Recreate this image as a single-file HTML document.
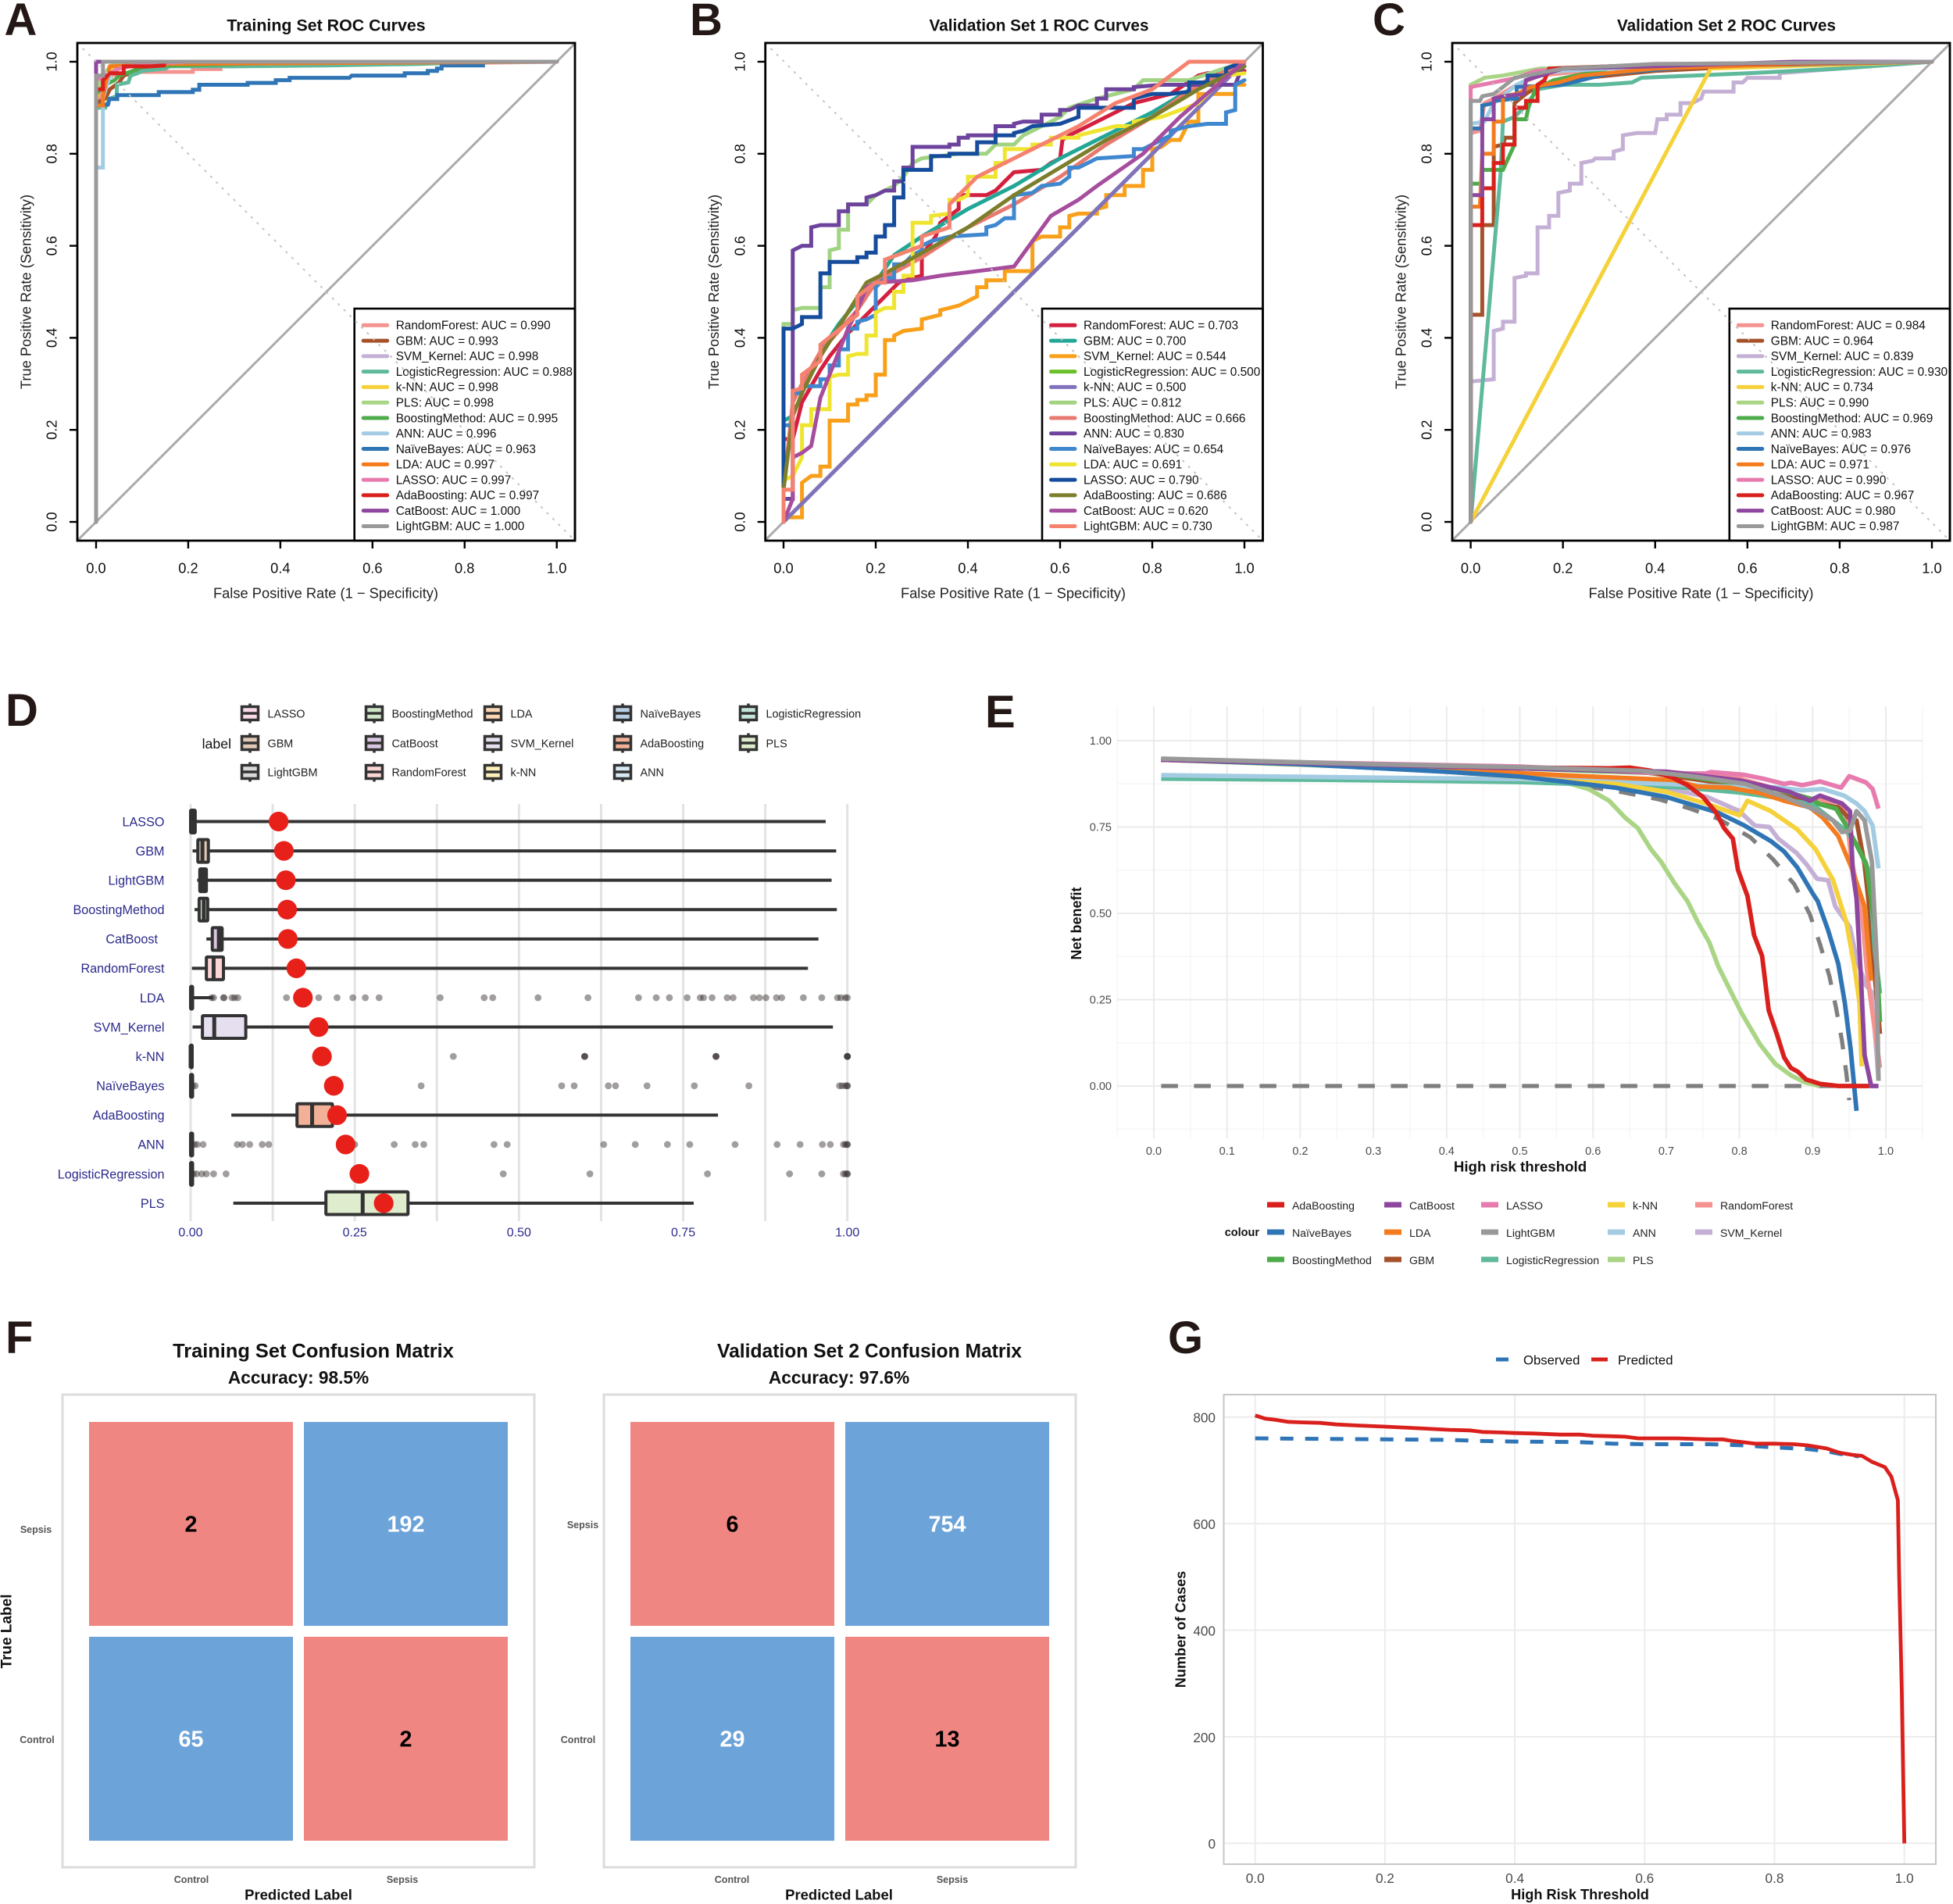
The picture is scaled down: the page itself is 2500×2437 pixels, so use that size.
<!DOCTYPE html>
<html lang="en">
<head>
<meta charset="utf-8">
<title>Model performance figure</title>
<style>
html,body{margin:0;padding:0;background:#fff;}
svg{display:block;font-family:"Liberation Sans",Arial,sans-serif;}
.letter{font-size:58px;font-weight:700;fill:#231815;}
.title{font-size:21.4px;font-weight:700;fill:#111;text-anchor:middle;dominant-baseline:central;}
.axt{font-size:18.3px;fill:#222;text-anchor:middle;dominant-baseline:central;}
.bt{font-weight:700;fill:#111;text-anchor:middle;dominant-baseline:central;}
</style>
</head>
<body>
<svg id="fig" xmlns="http://www.w3.org/2000/svg" width="2500" height="2437" viewBox="0 0 2500 2437">
<rect width="2500" height="2437" fill="#fff"/>

<g id="panelA"></g>
<g id="panelB"></g>
<g id="panelC"></g>
<g id="panelD"></g>
<g id="panelE"></g>
<g id="panelF"></g>
<g id="panelG"></g>

<text class="letter" x="5.5" y="45">A</text>
<text class="letter" x="883" y="45">B</text>
<text class="letter" x="1757" y="45">C</text>
<text class="letter" x="7" y="929">D</text>
<text class="letter" x="1261" y="931">E</text>
<text class="letter" x="7" y="1732">F</text>
<text class="letter" x="1495" y="1732">G</text>

<text class="title" x="417.5" y="32.5">Training Set ROC Curves</text>
<text class="axt" x="417" y="759">False Positive Rate (1 − Specificity)</text>
<text class="axt" x="33" y="373.5" transform="rotate(-90 33 373.5)">True Positive Rate (Sensitivity)</text>

<text class="title" x="1330" y="32.5" textLength="281" lengthAdjust="spacingAndGlyphs">Validation Set 1 ROC Curves</text>
<text class="axt" x="1297" y="759">False Positive Rate (1 − Specificity)</text>
<text class="axt" x="913.5" y="373.5" transform="rotate(-90 913.5 373.5)">True Positive Rate (Sensitivity)</text>

<text class="title" x="2210" y="32.5" textLength="280" lengthAdjust="spacingAndGlyphs">Validation Set 2 ROC Curves</text>
<text class="axt" x="2177.5" y="759">False Positive Rate (1 − Specificity)</text>
<text class="axt" x="1793" y="373.5" transform="rotate(-90 1793 373.5)">True Positive Rate (Sensitivity)</text>

<text x="296" y="951.8" font-size="17.7" fill="#111" text-anchor="end" dominant-baseline="central">label</text>

<text class="bt" x="1946" y="1493" font-size="18.7">High risk threshold</text>
<text class="bt" x="1378" y="1182" font-size="18" transform="rotate(-90 1378 1182)">Net benefit</text>
<text class="bt" x="1612" y="1577.8" font-size="14.5" style="text-anchor:end">colour</text>

<text class="bt" x="401" y="1729.5" font-size="25.4">Training Set Confusion Matrix</text>
<text class="bt" x="382" y="1763" font-size="22.7">Accuracy: 98.5%</text>
<text class="bt" x="1113" y="1729.5" font-size="25.4" textLength="390" lengthAdjust="spacingAndGlyphs">Validation Set 2 Confusion Matrix</text>
<text class="bt" x="1074" y="1763" font-size="22.7">Accuracy: 97.6%</text>
<text class="bt" x="382" y="2425" font-size="18.5">Predicted Label</text>
<text class="bt" x="1074" y="2425" font-size="18.5">Predicted Label</text>
<text class="bt" x="9" y="2088" font-size="19" transform="rotate(-90 9 2088)">True Label</text>

<text class="bt" x="2022.5" y="2425" font-size="18.2">High Risk Threshold</text>
<text class="bt" x="1511.5" y="2085.5" font-size="18.2" transform="rotate(-90 1511.5 2085.5)">Number of Cases</text>
</svg>

<script>
/* ---------- shared categories ---------- */
const rocModels = ["RandomForest","GBM","SVM_Kernel","LogisticRegression","k-NN","PLS","BoostingMethod","ANN","NaïveBayes","LDA","LASSO","AdaBoosting","CatBoost","LightGBM"];
const rocTicks = [0,0.2,0.4,0.6,0.8,1];

/* ---------- Panel A: training ROC ---------- */
const rocAAuc = [0.990,0.993,0.998,0.988,0.998,0.998,0.995,0.996,0.963,0.997,0.997,0.997,1.000,1.000];
const rocA_RandomForest = [[0,0],[0,.91],[.02,.95],[.03,.97],[.06,.975],[.1,.978],[.21,.978],[.21,.984],[.27,.984],[.27,.99],[.4,.992],[.6,.995],[1,1]];
const rocA_GBM = [[0,0],[0,.91],[.02,.92],[.03,.94],[.05,.955],[.06,.97],[.09,.98],[.15,.99],[.35,1],[1,1]];
const rocA_SVM = [[0,0],[0,.96],[.03,.98],[.05,.99],[.16,.995],[1,1]];
const rocA_LogReg = [[0,0],[0,.9],[.02,.9],[.03,.92],[.045,.925],[.045,.95],[.07,.955],[.075,.97],[.09,.975],[.1,.98],[.15,.985],[.16,.99],[.3,.99],[.5,.992],[.7,.995],[.85,1],[1,1]];
const rocA_kNN = [[0,0],[0,.92],[.01,.95],[.02,.97],[.04,.99],[.07,1],[1,1]];
const rocA_PLS = [[0,0],[0,.93],[.01,.96],[.03,.99],[.06,1],[1,1]];
const rocA_Boosting = [[0,0],[0,.93],[.02,.95],[.04,.96],[.05,.97],[.08,.98],[.1,.99],[.3,.995],[.55,1],[1,1]];
const rocA_ANN = [[0,0],[0,.77],[.015,.77],[.015,.92],[.03,.97],[.05,.99],[.1,1],[1,1]];
const rocA_NaiveBayes = [[0,0],[0,.905],[.026,.907],[.029,.919],[.046,.919],[.046,.9275],[.136,.9275],[.136,.934],[.21,.934],[.21,.939],[.224,.939],[.224,.95],[.329,.95],[.329,.954],[.39,.954],[.39,.96],[.42,.96],[.42,.965],[.55,.965],[.555,.97],[.67,.97],[.67,.975],[.72,.975],[.72,.98],[.74,.98],[.74,.985],[.75,.985],[.75,.992],[.84,.992],[.84,1],[1,1]];
const rocA_LDA = [[0,0],[0,.905],[.015,.905],[.015,.925],[.02,.95],[.03,.99],[.15,.995],[1,1]];
const rocA_LASSO = [[0,0],[0,.96],[.02,.97],[.05,.985],[.1,.995],[.2,1],[1,1]];
const rocA_Ada = [[0,0],[0,.94],[.015,.94],[.015,.96],[.03,.975],[.06,.975],[.06,.99],[.12,.99],[.147,.992],[.15,1],[1,1]];
const rocA_CatBoost = [[0,0],[0,.975],[0,1],[.012,1],[1,1]];
const rocA_LightGBM = [[0,0],[0,.97],[.015,.97],[.015,1],[1,1]];
const rocASeries = [rocA_RandomForest,rocA_GBM,rocA_SVM,rocA_LogReg,rocA_kNN,rocA_PLS,rocA_Boosting,rocA_ANN,rocA_NaiveBayes,rocA_LDA,rocA_LASSO,rocA_Ada,rocA_CatBoost,rocA_LightGBM];

/* ---------- Panel B: validation 1 ROC ---------- */
const rocBAuc = [0.703,0.700,0.544,0.500,0.500,0.812,0.666,0.830,0.654,0.691,0.790,0.686,0.620,0.730];
const rocB_RandomForest = [[0,0],[0,.18],[.02,.18],[.04,.26],[.08,.33],[.1,.36],[.14,.41],[.18,.45],[.22,.49],[.25,.52],[.28,.53],[.3,.535],[.3,.58],[.33,.62],[.34,.65],[.38,.68],[.38,.71],[.44,.71],[.46,.72],[.48,.74],[.5,.76],[.56,.765],[.58,.78],[.6,.79],[.605,.83],[.62,.84],[.66,.86],[.72,.89],[.76,.91],[.84,.93],[.9,.97],[.92,.975],[1,.98]];
const rocB_GBM = [[0,0],[0,.22],[.02,.23],[.02,.27],[.04,.29],[.08,.37],[.12,.43],[.16,.48],[.18,.5],[.2,.52],[.24,.58],[.3,.62],[.4,.68],[.5,.73],[.6,.79],[.7,.84],[.8,.89],[.9,.95],[1,.99]];
const rocB_SVM = [[0,0],[0,.01],[.04,.01],[.04,.085],[.06,.1],[.08,.1],[.08,.12],[.1,.12],[.1,.22],[.14,.22],[.14,.255],[.16,.255],[.16,.265],[.18,.265],[.18,.275],[.2,.275],[.2,.32],[.22,.32],[.22,.395],[.24,.395],[.24,.405],[.26,.415],[.3,.42],[.3,.44],[.32,.445],[.34,.45],[.34,.46],[.38,.47],[.4,.48],[.42,.49],[.42,.51],[.44,.51],[.44,.525],[.48,.525],[.48,.545],[.54,.545],[.54,.61],[.56,.62],[.6,.62],[.6,.64],[.62,.64],[.62,.665],[.64,.67],[.68,.67],[.68,.68],[.7,.685],[.7,.71],[.74,.71],[.74,.73],[.78,.73],[.78,.765],[.8,.765],[.8,.81],[.82,.815],[.84,.83],[.86,.83],[.88,.87],[.9,.87],[.9,.93],[.98,.93],[.98,.95],[1,.95]];
const rocB_LogReg = [[0,0],[1,1]];
const rocB_kNN = [[0,0],[1,1]];
const rocB_PLS = [[0,0],[0,.43],[.02,.43],[.02,.46],[.04,.465],[.08,.465],[.08,.51],[.1,.51],[.1,.59],[.12,.595],[.12,.635],[.14,.635],[.14,.69],[.18,.69],[.2,.71],[.22,.72],[.24,.73],[.26,.75],[.28,.78],[.3,.79],[.34,.795],[.38,.8],[.44,.8],[.46,.82],[.5,.82],[.52,.84],[.56,.86],[.6,.88],[.62,.9],[.68,.92],[.72,.93],[.76,.94],[.78,.96],[.88,.96],[.94,.98],[1,1]];
const rocB_Boosting = [[0,0],[0,.07],[.02,.26],[.04,.3],[.08,.37],[.16,.46],[.2,.52],[.3,.575],[.4,.64],[.5,.69],[.6,.75],[.7,.82],[.8,.88],[.9,.95],[1,1]];
const rocB_ANN = [[0,0],[0,.05],[.02,.05],[.02,.59],[.04,.6],[.06,.6],[.06,.64],[.08,.645],[.12,.645],[.12,.675],[.14,.675],[.14,.69],[.18,.69],[.18,.705],[.2,.71],[.22,.72],[.24,.72],[.24,.74],[.26,.74],[.26,.77],[.28,.77],[.28,.815],[.36,.815],[.36,.82],[.38,.82],[.38,.835],[.4,.835],[.4,.84],[.46,.84],[.46,.86],[.5,.86],[.5,.865],[.52,.87],[.56,.87],[.56,.885],[.6,.885],[.6,.895],[.62,.895],[.64,.905],[.68,.905],[.68,.92],[.7,.92],[.7,.94],[.76,.94],[.76,.945],[.82,.95],[.98,.95],[1,1]];
const rocB_NaiveBayes = [[0,0],[0,.21],[.02,.21],[.02,.28],[.04,.28],[.04,.295],[.08,.295],[.08,.31],[.1,.31],[.1,.34],[.12,.34],[.12,.375],[.14,.375],[.14,.42],[.16,.42],[.16,.435],[.18,.44],[.2,.45],[.2,.51],[.22,.53],[.24,.53],[.24,.56],[.26,.56],[.28,.58],[.3,.59],[.3,.6],[.32,.61],[.36,.62],[.44,.625],[.44,.64],[.46,.645],[.48,.66],[.5,.66],[.5,.71],[.54,.715],[.56,.73],[.6,.735],[.62,.75],[.62,.77],[.64,.77],[.66,.78],[.68,.79],[.76,.795],[.76,.81],[.78,.81],[.8,.82],[.82,.83],[.84,.84],[.84,.85],[.88,.86],[.92,.865],[.96,.865],[.96,.89],[.98,.895],[.98,.95],[1,.96]];
const rocB_LDA = [[0,0],[0,.09],[.02,.1],[.04,.14],[.04,.21],[.06,.21],[.06,.245],[.1,.245],[.1,.315],[.12,.32],[.14,.32],[.14,.36],[.16,.365],[.18,.365],[.18,.405],[.2,.405],[.2,.455],[.22,.465],[.24,.465],[.24,.5],[.26,.5],[.26,.535],[.28,.535],[.28,.65],[.32,.65],[.32,.665],[.36,.67],[.36,.7],[.38,.7],[.4,.71],[.4,.75],[.46,.75],[.46,.78],[.48,.78],[.48,.81],[.54,.81],[.54,.82],[.58,.82],[.58,.835],[.64,.835],[.64,.84],[.68,.85],[.72,.86],[.76,.86],[.76,.87],[.82,.88],[.9,.91],[.94,.95],[.96,.97],[1,.975]];
const rocB_LASSO = [[0,0],[0,.42],[.02,.42],[.04,.43],[.04,.445],[.08,.445],[.08,.54],[.1,.54],[.1,.565],[.16,.565],[.16,.575],[.18,.575],[.18,.585],[.2,.585],[.2,.62],[.22,.62],[.22,.645],[.24,.645],[.24,.705],[.26,.705],[.26,.765],[.32,.765],[.32,.795],[.36,.795],[.36,.8],[.42,.8],[.42,.825],[.46,.825],[.46,.84],[.5,.84],[.5,.845],[.52,.85],[.54,.86],[.6,.865],[.64,.88],[.64,.9],[.76,.9],[.76,.92],[.8,.93],[.84,.93],[.88,.935],[.88,.955],[.92,.955],[.92,.97],[.96,.97],[.96,.985],[1,1]];
const rocB_Ada = [[0,0],[0,.07],[.02,.23],[.04,.28],[.08,.36],[.18,.52],[.22,.54],[.4,.64],[.5,.71],[.6,.77],[.7,.83],[.8,.88],[.9,.94],[1,.99]];
const rocB_CatBoost = [[0,0],[.02,.05],[.02,.14],[.04,.15],[.06,.165],[.08,.27],[.1,.32],[.12,.37],[.14,.42],[.16,.46],[.18,.51],[.2,.52],[.28,.525],[.34,.535],[.5,.555],[.54,.61],[.58,.665],[.64,.7],[.68,.73],[.78,.8],[.86,.88],[1,1]];
const rocB_LightGBM = [[0,0],[0,.07],[.02,.07],[.02,.285],[.04,.29],[.04,.32],[.08,.35],[.08,.385],[.16,.45],[.16,.49],[.2,.52],[.22,.52],[.22,.57],[.3,.6],[.3,.62],[.36,.64],[.36,.69],[.38,.71],[.42,.75],[.46,.77],[.56,.82],[.64,.86],[.72,.91],[.8,.94],[.88,1],[1,1]];
const rocBSeries = [rocB_RandomForest,rocB_GBM,rocB_SVM,rocB_LogReg,rocB_kNN,rocB_PLS,rocB_Boosting,rocB_ANN,rocB_NaiveBayes,rocB_LDA,rocB_LASSO,rocB_Ada,rocB_CatBoost,rocB_LightGBM];

/* ---------- Panel C: validation 2 ROC ---------- */
const rocCAuc = [0.984,0.964,0.839,0.930,0.734,0.990,0.969,0.983,0.976,0.971,0.990,0.967,0.980,0.987];
const rocC_RandomForest = [[0,0],[0,.845],[.02,.85],[.03,.91],[.05,.92],[.1,.95],[.15,.97],[.3,.985],[.6,.995],[1,1]];
const rocC_GBM = [[0,0],[0,.45],[.025,.45],[.025,.645],[.05,.645],[.05,.815],[.07,.82],[.075,.835],[.095,.835],[.095,.91],[.12,.93],[.15,.95],[.2,.96],[.4,.98],[.6,.99],[1,1]];
const rocC_SVM = [[0,0],[0,.305],[.05,.31],[.05,.415],[.07,.42],[.07,.435],[.095,.435],[.095,.53],[.12,.535],[.12,.54],[.145,.54],[.145,.64],[.17,.64],[.17,.665],[.19,.665],[.19,.715],[.215,.72],[.215,.735],[.24,.735],[.24,.78],[.265,.785],[.27,.79],[.31,.79],[.31,.805],[.33,.81],[.33,.84],[.36,.845],[.4,.845],[.405,.875],[.425,.875],[.425,.885],[.455,.885],[.455,.91],[.48,.91],[.5,.92],[.505,.935],[.57,.935],[.57,.955],[.59,.955],[.6,.965],[.67,.965],[.67,.975],[.8,.985],[1,1]];
const rocC_LogReg = [[0,0],[.065,.76],[.07,.87],[.095,.88],[.12,.905],[.145,.94],[.2,.95],[.28,.95],[.35,.955],[.37,.965],[.6,.975],[.8,.985],[1,1]];
const rocC_kNN = [[0,0],[.52,.985],[1,1]];
const rocC_PLS = [[0,0],[0,.95],[.03,.965],[.07,.97],[.15,.985],[.3,.99],[1,1]];
const rocC_Boosting = [[0,0],[0,.735],[.025,.735],[.025,.765],[.07,.765],[.095,.82],[.095,.875],[.12,.875],[.125,.9],[.14,.94],[.18,.96],[.3,.985],[.5,.995],[1,1]];
const rocC_ANN = [[0,0],[0,.865],[.03,.87],[.05,.91],[.1,.95],[.15,.975],[.2,.98],[.4,.99],[1,1]];
const rocC_NaiveBayes = [[0,0],[0,.855],[.025,.855],[.025,.905],[.05,.91],[.05,.915],[.1,.92],[.1,.945],[.2,.95],[.24,.96],[.3,.975],[.5,.99],[1,1]];
const rocC_LDA = [[0,0],[0,.685],[.02,.685],[.025,.8],[.05,.8],[.05,.87],[.07,.87],[.07,.925],[.1,.93],[.13,.945],[.19,.955],[.24,.97],[.4,.985],[.7,.995],[1,1]];
const rocC_LASSO = [[0,0],[0,.945],[.05,.955],[.1,.965],[.14,.98],[.2,.985],[.4,.995],[1,1]];
const rocC_Ada = [[0,0],[0,.645],[.025,.645],[.025,.725],[.05,.725],[.05,.78],[.07,.78],[.07,.82],[.095,.82],[.095,.9],[.12,.9],[.12,.915],[.145,.915],[.145,.95],[.16,.96],[.17,.985],[.3,.99],[.55,.995],[1,1]];
const rocC_CatBoost = [[0,0],[0,.71],[.025,.71],[.025,.875],[.05,.875],[.05,.92],[.07,.925],[.115,.93],[.12,.96],[.2,.985],[.4,.99],[.7,1],[1,1]];
const rocC_LightGBM = [[0,0],[0,.915],[.02,.915],[.025,.925],[.05,.93],[.07,.945],[.095,.965],[.2,.985],[.4,.995],[1,1]];
const rocCSeries = [rocC_RandomForest,rocC_GBM,rocC_SVM,rocC_LogReg,rocC_kNN,rocC_PLS,rocC_Boosting,rocC_ANN,rocC_NaiveBayes,rocC_LDA,rocC_LASSO,rocC_Ada,rocC_CatBoost,rocC_LightGBM];

/* ---------- Panel D: box plots ---------- */
const boxLabels = ["LASSO","GBM","LightGBM","BoostingMethod","CatBoost","RandomForest","LDA","SVM_Kernel","k-NN","NaïveBayes","AdaBoosting","ANN","LogisticRegression","PLS"];
const boxLow    = [0,.003,.01,.006,.024,.002,0,.003,0,0,.062,0,0,.065];
const boxQ1     = [0,.011,.014,.013,.033,.024,0,.018,0,0,.162,0,0,.206];
const boxMedian = [.002,.018,.019,.02,.043,.035,.001,.036,0,.001,.185,.001,.001,.262];
const boxQ3     = [.007,.027,.024,.026,.048,.05,.003,.084,.002,.003,.216,.003,.003,.331];
const boxHigh   = [.967,.983,.976,.984,.956,.94,.034,.978,.002,.003,.803,.003,.003,.766];
const boxMean   = [.134,.142,.145,.147,.148,.161,.171,.195,.2,.218,.223,.236,.257,.294];
const outliersLDA = [.032,.035,.05,.051,.063,.067,.072,.146,.195,.223,.247,.266,.287,.38,.447,.46,.529,.605,.682,.709,.729,.756,.776,.781,.794,.817,.826,.857,.866,.876,.892,.9,.933,.961,.985,.99,.997,1];
const outliersKNN = [.4,.6,.6,.6,.8,.8,.8,1,1,1,1];
const outliersNB = [.003,.007,.351,.565,.584,.636,.647,.695,.767,.85,.988,.992,.997,1,1];
const outliersANN = [.006,.01,.019,.071,.079,.09,.109,.119,.25,.31,.342,.355,.462,.482,.629,.677,.726,.76,.829,.893,.928,.962,.974,.994,.997,1,1];
const outliersLogReg = [.004,.009,.017,.024,.035,.054,.476,.608,.787,.912,.961,.994,.997,1,1];
const boxTicks = [0,.25,.5,.75,1];
const boxGrid = [0,.125,.25,.375,.5,.625,.75,.875,1];
const boxLegendCols = [["LASSO","GBM","LightGBM"],["BoostingMethod","CatBoost","RandomForest"],["LDA","SVM_Kernel","k-NN"],["NaïveBayes","AdaBoosting","ANN"],["LogisticRegression","PLS"]];

/* ---------- Panel E: decision curves ---------- */
const dcaPLS = [[.01,.945],[.2,.93],[.4,.915],[.5,.905],[.558,.882],[.594,.86],[.622,.826],[.644,.777],[.661,.747],[.679,.686],[.693,.649],[.711,.588],[.729,.535],[.743,.475],[.759,.415],[.771,.347],[.786,.283],[.803,.211],[.828,.121],[.849,.064],[.871,.03],[.889,.011],[.91,0]];
const dcaSVM = [[.01,.945],[.3,.925],[.6,.89],[.714,.856],[.756,.837],[.8,.796],[.821,.754],[.841,.75],[.853,.716],[.878,.675],[.892,.641],[.906,.6],[.921,.596],[.931,.52],[.951,.46],[.96,.37],[.972,.294],[.981,.271],[.99,.02]];
const dcaRF = [[.01,.945],[.5,.92],[.7,.91],[.8,.89],[.9,.83],[.935,.822],[.946,.784],[.953,.656],[.967,.505],[.975,.317],[.992,.053]];
const dcaGBM = [[.01,.945],[.5,.92],[.65,.915],[.8,.87],[.9,.82],[.935,.807],[.949,.777],[.96,.769],[.971,.641],[.978,.505],[.985,.317],[.992,.151]];
const dcaLogReg = [[.01,.89],[.2,.887],[.4,.883],[.5,.88],[.58,.875],[.65,.87],[.72,.865],[.8,.85],[.85,.835],[.9,.815],[.946,.739],[.96,.7],[.978,.618],[.985,.392],[.992,.268]];
const dcaBoosting = [[.01,.945],[.5,.92],[.7,.905],[.85,.86],[.9,.83],[.907,.818],[.932,.803],[.946,.754],[.973,.645],[.985,.468],[.992,.185]];
const dcaANN = [[.01,.9],[.3,.893],[.5,.889],[.7,.875],[.8,.865],[.85,.865],[.886,.856],[.914,.86],[.943,.841],[.96,.818],[.971,.796],[.982,.754],[.99,.63]];
const dcaLASSO = [[.01,.945],[.5,.925],[.7,.905],[.754,.905],[.761,.909],[.807,.901],[.832,.89],[.861,.875],[.87,.878],[.886,.871],[.91,.882],[.939,.864],[.95,.897],[.973,.879],[.982,.86],[.99,.803]];
const dcaLDA = [[.01,.945],[.3,.925],[.5,.906],[.558,.9],[.665,.89],[.711,.886],[.743,.867],[.786,.864],[.829,.848],[.861,.826],[.896,.807],[.914,.777],[.935,.724],[.953,.633],[.971,.52],[.98,.305]];
const dcaKNN = [[.01,.945],[.3,.925],[.5,.895],[.558,.884],[.63,.875],[.7,.852],[.754,.818],[.8,.784],[.811,.826],[.843,.796],[.879,.743],[.904,.686],[.928,.596],[.946,.475],[.957,.347],[.964,.241],[.967,.057]];
const dcaNB = [[.01,.945],[.2,.932],[.4,.91],[.5,.896],[.558,.882],[.63,.864],[.7,.837],[.77,.792],[.807,.754],[.843,.709],[.861,.679],[.879,.633],[.9,.558],[.907,.535],[.921,.452],[.935,.354],[.944,.241],[.952,.106],[.96,-.072]];
const dcaAda = [[.01,.945],[.2,.936],[.4,.925],[.5,.922],[.622,.92],[.65,.922],[.679,.913],[.708,.894],[.729,.871],[.75,.837],[.768,.792],[.779,.747],[.791,.716],[.798,.626],[.811,.55],[.82,.437],[.831,.377],[.84,.219],[.851,.151],[.861,.083],[.87,.053],[.88,.041],[.891,.019],[.91,.006],[.935,0],[.978,0]];
const dcaCatBoost = [[.01,.945],[.5,.92],[.7,.91],[.8,.885],[.868,.852],[.896,.826],[.91,.841],[.94,.818],[.951,.796],[.955,.618],[.96,.543],[.966,.317],[.971,.09],[.98,0],[.99,0]];
const dcaLightGBM = [[.01,.948],[.3,.932],[.5,.923],[.558,.92],[.665,.913],[.736,.897],[.807,.875],[.861,.837],[.907,.796],[.928,.769],[.94,.735],[.951,.739],[.96,.796],[.971,.769],[.981,.649],[.987,.392],[.99,.015]];
const dcaTreatAll = [[.01,.945],[.2,.932],[.4,.91],[.5,.893],[.56,.878],[.637,.852],[.69,.83],[.733,.803],[.772,.773],[.815,.72],[.846,.656],[.875,.584],[.896,.498],[.91,.411],[.923,.317],[.932,.226],[.94,.132],[.946,.038],[.95,-.041]];
const dcaTreatNone = [[.01,0],[.98,0]];
const dcaXTicks = [0,.1,.2,.3,.4,.5,.6,.7,.8,.9,1];
const dcaYTicks = [0,.25,.5,.75,1];
const dcaXMinor = [-.05,.05,.15,.25,.35,.45,.55,.65,.75,.85,.95,1.05];
const dcaYMinor = [-.125,.125,.375,.625,.875];
const dcaLegendCols = [["AdaBoosting","NaïveBayes","BoostingMethod"],["CatBoost","LDA","GBM"],["LASSO","LightGBM","LogisticRegression"],["k-NN","ANN","PLS"],["RandomForest","SVM_Kernel"]];

/* ---------- Panel F: confusion matrices ---------- */
const cmRows = ["Sepsis","Control"];
const cmCols = ["Control","Sepsis"];
const cmTrainingValues = [[2,192],[65,2]];
const cmValidationValues = [[6,754],[29,13]];

/* ---------- Panel G: clinical impact ---------- */
const impactPredicted = [[0,803],[.015,797],[.03,795],[.05,791],[.07,790],[.1,789],[.125,786],[.16,784],[.2,782],[.25,779],[.3,776],[.33,775],[.35,772],[.38,771],[.4,770],[.43,769],[.47,767],[.5,767],[.52,765],[.55,764],[.57,763],[.59,760],[.65,760],[.7,758],[.72,758],[.735,755],[.75,753],[.77,750],[.8,750],[.83,749],[.85,747],[.88,741],[.9,733],[.92,729],[.935,727],[.95,716],[.97,706],[.98,688],[.99,644],[.992,500],[.996,288],[1,0]];
const impactObserved = [[0,760],[.1,759],[.2,758],[.3,757],[.35,755],[.4,754],[.5,753],[.55,750],[.6,749],[.7,749],[.75,747],[.8,743],[.85,740],[.88,736],[.9,731],[.93,726]];
const impactXTicks = [0,.2,.4,.6,.8,1];
const impactYTicks = [0,200,400,600,800];

/* ---------- styling maps ---------- */
const rocColorsWarm = ["#F4938F","#A5522B","#C5B0D5","#5FB99C","#F5D13A","#A9D585","#4DAB4A","#A3CCE3","#2F75B5","#F47C1E","#E77BAE","#D9201C","#8E479E","#999999"];
const rocColorsB = ["#D41F3F","#22A696","#F9A01B","#6BBF2A","#8272BC","#A0D382","#E8796F","#6D439D","#3F87CF","#EFE530","#164C9C","#7C7E2B","#A64D9E","#F5826F"];
const boxFill = {"LASSO":"#f9d9e8","GBM":"#e0c9b5","LightGBM":"#d9d9d9","BoostingMethod":"#cfe5c8","CatBoost":"#d9c7e1","RandomForest":"#fbd6d4","LDA":"#fcd5b4","SVM_Kernel":"#e6dff0","k-NN":"#fdf0b8","NaïveBayes":"#b8cfe6","AdaBoosting":"#f2b196","ANN":"#d7e9f2","LogisticRegression":"#c4e5da","PLS":"#dfeccd"};
const dcaColor = {"AdaBoosting":"#D9201C","NaïveBayes":"#2F75B5","BoostingMethod":"#4DAB4A","CatBoost":"#8E479E","LDA":"#F47C1E","GBM":"#A5522B","LASSO":"#E77BAE","LightGBM":"#999999","LogisticRegression":"#5FB99C","k-NN":"#F5D13A","ANN":"#A3CCE3","PLS":"#A9D585","RandomForest":"#F4938F","SVM_Kernel":"#C5B0D5"};

/* ---------- helpers ---------- */
const NS = "http://www.w3.org/2000/svg";
function mk(parent, tag, attrs) {
  const el = document.createElementNS(NS, tag);
  for (const k in attrs) el.setAttribute(k, attrs[k]);
  parent.appendChild(el);
  return el;
}
function txt(parent, x, y, str, size, fill, anchor, weight, rotate) {
  const el = mk(parent, "text", {x:x, y:rotate ? y : y + 0.8, "font-size":size, fill:fill, "text-anchor":anchor || "middle", "dominant-baseline":"central"});
  if (weight) el.setAttribute("font-weight", weight);
  if (rotate) el.setAttribute("transform", "rotate(" + rotate + " " + x + " " + y + ")");
  el.textContent = str;
  return el;
}
function pathFrom(points, xs, ys) {
  return points.map((p, i) => (i ? "L" : "M") + xs(p[0]).toFixed(1) + " " + ys(p[1]).toFixed(1)).join("");
}
function linear(d0, d1, r0, r1) {
  return v => r0 + (v - d0) * (r1 - r0) / (d1 - d0);
}

/* ---------- ROC chart ---------- */
function drawRoc(gid, prefix, L, aucs, colors, series) {
  const g = document.getElementById(gid);
  const xs = linear(0, 1, L.x0, L.x1);
  const ys = linear(0, 1, 668, 79);
  const top = 55, bottom = 692, left = L.left, right = L.right;
  const xInv = linear(L.x0, L.x1, 0, 1);

  const diag = mk(g, "line", {x1:xs(xInv(left)), y1:ys(xInv(left)), x2:xs(xInv(right)), y2:ys(xInv(right)), stroke:"#ababab", "stroke-width":3});
  
  

  series.forEach((pts, i) => {
    const p = mk(g, "path", {d:pathFrom(pts, xs, ys), fill:"none", stroke:colors[i], "stroke-width":5, "stroke-linejoin":"miter", "stroke-linecap":"round"});
    
    
  });

  const lg = mk(g, "rect", {x:L.legendLeft, y:395, width:right - L.legendLeft, height:bottom - 395, fill:"#fff", stroke:"#000", "stroke-width":2.6});
  
  
  rocModels.forEach((m, i) => {
    const y = 416.3 + i * 19.78;
    const k = mk(g, "line", {x1:L.legendLeft + 11.5, x2:L.legendLeft + 42, y1:y, y2:y, stroke:colors[i], "stroke-width":5, "stroke-linecap":"round"});
    
    
    const t = txt(g, L.legendLeft + 53, y, m + ": AUC = " + aucs[i].toFixed(3), 15.4, "#111", "start");
    
    
  });

  const dots = mk(g, "line", {x1:left, y1:top, x2:right, y2:bottom, stroke:"#c4c4c4", "stroke-width":2, "stroke-dasharray":"1.5 9", "stroke-linecap":"round"});
  
  

  const box = mk(g, "rect", {x:left, y:top, width:right - left, height:bottom - top, fill:"none", stroke:"#000", "stroke-width":2.8});
  
  

  rocTicks.forEach(v => {
    const a = mk(g, "line", {x1:xs(v), x2:xs(v), y1:bottom, y2:bottom + 10, stroke:"#000", "stroke-width":2.4});
    
    
    const b = txt(g, xs(v), 726, v.toFixed(1), 18.3, "#111");
    
    
    const c = mk(g, "line", {x1:left - 10, x2:left, y1:ys(v), y2:ys(v), stroke:"#000", "stroke-width":2.4});
    
    
    const d = txt(g, L.yTickX, ys(v), v.toFixed(1), 18.3, "#111", "middle", null, -90);
    
    
  });
}
drawRoc("panelA", "roc-a", {x0:123, x1:712.7, left:99, right:736, legendLeft:453.7, yTickX:66}, rocAAuc, rocColorsWarm, rocASeries);
drawRoc("panelB", "roc-b", {x0:1003, x1:1593, left:979.7, right:1616.5, legendLeft:1334, yTickX:947}, rocBAuc, rocColorsB, rocBSeries);
drawRoc("panelC", "roc-c", {x0:1882.6, x1:2473, left:1859, right:2496, legendLeft:2213.8, yTickX:1826}, rocCAuc, rocColorsWarm, rocCSeries);

/* ---------- Box plot chart ---------- */
(function () {
  const g = document.getElementById("panelD");
  const xs = linear(0, 1, 244, 1084.7);
  const ys = i => 1051.5 + i * 37.58;
  const NAVY = "#2b2a8c", INK = "#333";

  boxGrid.forEach(v => {
    const l = mk(g, "line", {x1:xs(v), x2:xs(v), y1:1029, y2:1563, stroke:"#e3e3e3", "stroke-width":3});
    
    
  });
  boxTicks.forEach(v => {
    const t = txt(g, xs(v), 1577, v.toFixed(2), 16, NAVY);
    
    
  });

  const outlierSets = {"LDA":outliersLDA, "k-NN":outliersKNN, "NaïveBayes":outliersNB, "ANN":outliersANN, "LogisticRegression":outliersLogReg};

  boxLabels.forEach((name, i) => {
    const y = ys(i);
    const slug = name.toLowerCase();
    const lab = txt(g, name === "CatBoost" ? 202 : 210.5, y, name, 16.2, NAVY, "end");
    
    

    (outlierSets[name] || []).forEach(v => {
      const o = mk(g, "circle", {cx:xs(v), cy:y, r:4.4, fill:"#3a3030", "fill-opacity":0.47});
      
      
    });

    const w = mk(g, "line", {x1:xs(boxLow[i]), x2:xs(boxHigh[i]), y1:y, y2:y, stroke:INK, "stroke-width":4});
    
    

    const r = mk(g, "rect", {x:xs(boxQ1[i]), y:y - 14.5, width:Math.max(xs(boxQ3[i]) - xs(boxQ1[i]), 2), height:29, fill:boxFill[name], stroke:INK, "stroke-width":4, rx:1});
    
    

    const m = mk(g, "line", {x1:xs(boxMedian[i]), x2:xs(boxMedian[i]), y1:y - 14.5, y2:y + 14.5, stroke:INK, "stroke-width":5});
    
    

    const c = mk(g, "circle", {cx:xs(boxMean[i]), cy:y, r:12.6, fill:"#E8201A"});
    
    
  });

  const colKeys = [320, 479, 631, 797, 958];
  const rowY = [913, 951, 988];
  boxLegendCols.forEach((col, ci) => {
    col.forEach((name, ri) => {
      const kx = colKeys[ci], ky = rowY[ri];
      const wl = mk(g, "line", {x1:kx, x2:kx, y1:ky - 12.5, y2:ky + 12.5, stroke:INK, "stroke-width":3.5});
      
      
      const kb = mk(g, "rect", {x:kx - 10.5, y:ky - 8.5, width:21, height:17, fill:boxFill[name], stroke:INK, "stroke-width":3.5});
      
      
      const kl = mk(g, "line", {x1:kx - 10.5, x2:kx + 10.5, y1:ky, y2:ky, stroke:INK, "stroke-width":3.5});
      
      
      const kt = txt(g, kx + 22.5, ky + 0.6, name, 14.4, "#222", "start");
      
      
    });
  });
})();

/* ---------- Decision curve chart ---------- */
(function () {
  const g = document.getElementById("panelE");
  const xs = linear(0, 1, 1477, 2414);
  const ys = linear(0, 1, 1390, 948);
  const L = 1430, R = 2461, T = 904, B = 1457;

  dcaXMinor.forEach(v => {
    const l = mk(g, "line", {x1:xs(v), x2:xs(v), y1:T, y2:B, stroke:"#f4f4f4", "stroke-width":1.2});
    
    
  });
  dcaYMinor.forEach(v => {
    const l = mk(g, "line", {x1:L, x2:R, y1:ys(v), y2:ys(v), stroke:"#f4f4f4", "stroke-width":1.2});
    
    
  });
  dcaXTicks.forEach(v => {
    const l = mk(g, "line", {x1:xs(v), x2:xs(v), y1:T, y2:B, stroke:"#ebebeb", "stroke-width":2});
    
    
    const t = txt(g, xs(v), 1473, v.toFixed(1), 14.5, "#4d4d4d");
    
    
  });
  dcaYTicks.forEach(v => {
    const l = mk(g, "line", {x1:L, x2:R, y1:ys(v), y2:ys(v), stroke:"#ebebeb", "stroke-width":2});
    
    
    const t = txt(g, 1423, ys(v), v.toFixed(2), 14.5, "#4d4d4d", "end");
    
    
  });

  const refs = [["treat-all", dcaTreatAll], ["treat-none", dcaTreatNone]];
  refs.forEach(r => {
    const p = mk(g, "path", {d:pathFrom(r[1], xs, ys), fill:"none", stroke:"#7f7f7f", "stroke-width":5.3, "stroke-dasharray":"21.5 20.5"});
    
    
  });

  const order = [["PLS",dcaPLS],["SVM_Kernel",dcaSVM],["RandomForest",dcaRF],["GBM",dcaGBM],["LogisticRegression",dcaLogReg],["BoostingMethod",dcaBoosting],["ANN",dcaANN],["LASSO",dcaLASSO],["LDA",dcaLDA],["k-NN",dcaKNN],["NaïveBayes",dcaNB],["AdaBoosting",dcaAda],["CatBoost",dcaCatBoost],["LightGBM",dcaLightGBM]];
  order.forEach(s => {
    const p = mk(g, "path", {d:pathFrom(s[1], xs, ys), fill:"none", stroke:dcaColor[s[0]], "stroke-width":5.8, "stroke-linejoin":"round"});
    
    
  });

  const keyX = [1622, 1772, 1896, 2058, 2170];
  const rowY = [1542, 1577, 1612];
  dcaLegendCols.forEach((col, ci) => {
    col.forEach((name, ri) => {
      const k = mk(g, "rect", {x:keyX[ci], y:rowY[ri] - 3.5, width:22, height:7, fill:dcaColor[name]});
      
      
      const t = txt(g, keyX[ci] + 32, rowY[ri], name, 14.1, "#222", "start");
      
      
    });
  });
})();

/* ---------- Confusion matrices ---------- */
function drawMatrix(prefix, values, L) {
  const g = document.getElementById("panelF");
  const frame = mk(g, "rect", {x:L.left, y:1785, width:604, height:605, fill:"#fff", stroke:"#dcdcdc", "stroke-width":3});
  
  
  const colX = j => L.left + 34 + j * 275;
  const rowY = i => 1820 + i * 275;
  cmRows.forEach((rowName, i) => {
    cmCols.forEach((colName, j) => {
      const correct = rowName === colName;
      const c = mk(g, "rect", {x:colX(j), y:rowY(i), width:261, height:261, fill:correct ? "#6CA3D9" : "#F08682"});
      
      
      const t = txt(g, colX(j) + 130.5, rowY(i) + 130.5, String(values[i][j]), 28.7, correct ? "#fff" : "#000", "middle", 700);
      
      
    });
    const rl = txt(g, L.rowLabelX[i], L.rowLabelY[i], rowName, 12.5, "#555", "middle", 700);
    
    
  });
  cmCols.forEach((colName, j) => {
    const cl = txt(g, L.colLabelX[j], 2405, colName, 12.5, "#555", "middle", 700);
    
    
  });
}
drawMatrix("cm-training", cmTrainingValues, {left:80, rowLabelX:[46,47.5], rowLabelY:[1957,2226], colLabelX:[245,515]});
drawMatrix("cm-validation", cmValidationValues, {left:773, rowLabelX:[746,740], rowLabelY:[1951,2226], colLabelX:[937,1219]});

/* ---------- Clinical impact chart ---------- */
(function () {
  const g = document.getElementById("panelG");
  const xs = linear(0, 1, 1606.7, 2437.7);
  const ys = linear(0, 800, 2359.4, 1813.7);
  const L = 1566.5, R = 2478, T = 1785, B = 2386;

  impactXTicks.forEach(v => {
    const l = mk(g, "line", {x1:xs(v), x2:xs(v), y1:T, y2:B, stroke:"#ececec", "stroke-width":2});
    
    
    const t = txt(g, xs(v), 2403, v.toFixed(1), 17.2, "#4d4d4d");
    
    
  });
  impactYTicks.forEach(v => {
    const l = mk(g, "line", {x1:L, x2:R, y1:ys(v), y2:ys(v), stroke:"#ececec", "stroke-width":2});
    
    
    const t = txt(g, 1556, ys(v), String(v), 17.2, "#4d4d4d", "end");
    
    
  });

  const frame = mk(g, "rect", {x:L, y:T, width:R - L, height:B - T, fill:"none", stroke:"#c6c6c6", "stroke-width":2});
  
  

  const obs = mk(g, "path", {d:pathFrom(impactObserved, xs, ys), fill:"none", stroke:"#2F75B5", "stroke-width":5, "stroke-dasharray":"17 15"});
  
  
  const pred = mk(g, "path", {d:pathFrom(impactPredicted, xs, ys), fill:"none", stroke:"#D9201C", "stroke-width":4.8, "stroke-linejoin":"round"});
  
  

  const k1 = mk(g, "line", {x1:1915, x2:1931, y1:1740, y2:1740, stroke:"#2F75B5", "stroke-width":5});
  
  
  const t1 = txt(g, 1950, 1740, "Observed", 16.7, "#111", "start");
  
  
  const k2 = mk(g, "line", {x1:2037, x2:2058, y1:1740, y2:1740, stroke:"#D9201C", "stroke-width":5});
  
  
  const t2 = txt(g, 2071, 1740, "Predicted", 16.7, "#111", "start");
  
  
})();
</script>
</body>
</html>
